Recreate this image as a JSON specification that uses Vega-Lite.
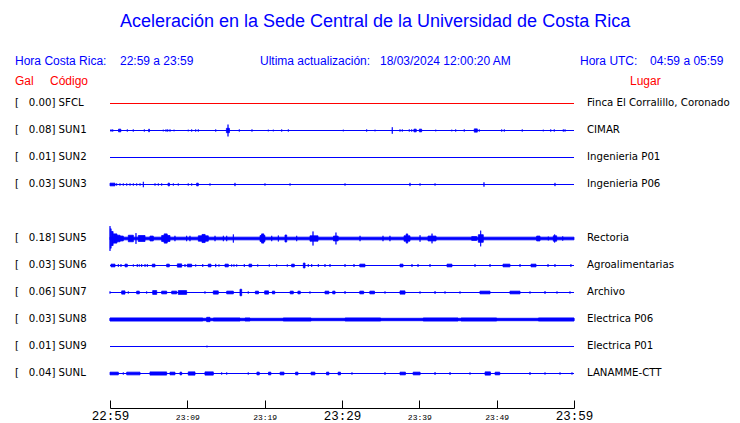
{
  "$schema": "https://vega.github.io/schema/vega-lite/v6.json",
  "width": 464,
  "height": 408,
  "autosize": "none",
  "padding": {"left": 110, "top": 0, "right": 166, "bottom": 15},
  "background": "white",
  "config": {"view": {"stroke": null}, "font": "DejaVu Sans"},
  "datasets": {
    "stations": [
      {"code": "SFCL", "gal": 0.00, "place": "Finca El Corralillo, Coronado", "row": 0},
      {"code": "SUN1", "gal": 0.08, "place": "CIMAR", "row": 1},
      {"code": "SUN2", "gal": 0.01, "place": "Ingenieria P01", "row": 2},
      {"code": "SUN3", "gal": 0.03, "place": "Ingenieria P06", "row": 3},
      {"code": "SUN5", "gal": 0.18, "place": "Rectoria", "row": 5},
      {"code": "SUN6", "gal": 0.03, "place": "Agroalimentarias", "row": 6},
      {"code": "SUN7", "gal": 0.06, "place": "Archivo", "row": 7},
      {"code": "SUN8", "gal": 0.03, "place": "Electrica P06", "row": 8},
      {"code": "SUN9", "gal": 0.01, "place": "Electrica P01", "row": 9},
      {"code": "SUNL", "gal": 0.04, "place": "LANAMME-CTT", "row": 10}
    ],
    "spikes": [
      {"code":"SUN1","t0":0.13,"t1":0.13,"amp":0.04},{"code":"SUN1","t0":0.35,"t1":0.35,"amp":0.04},{"code":"SUN1","t0":1.1,"t1":1.4,"amp":0.05},{"code":"SUN1","t0":2.24,"t1":2.24,"amp":0.04},{"code":"SUN1","t0":3.01,"t1":3.01,"amp":0.04},{"code":"SUN1","t0":4.44,"t1":4.44,"amp":0.04},{"code":"SUN1","t0":5.0,"t1":5.1,"amp":0.05},{"code":"SUN1","t0":6.89,"t1":6.89,"amp":0.03},{"code":"SUN1","t0":7.24,"t1":7.24,"amp":0.04},{"code":"SUN1","t0":7.46,"t1":7.46,"amp":0.04},{"code":"SUN1","t0":7.76,"t1":7.76,"amp":0.04},{"code":"SUN1","t0":8.28,"t1":8.28,"amp":0.03},{"code":"SUN1","t0":10.12,"t1":10.12,"amp":0.03},{"code":"SUN1","t0":10.56,"t1":10.56,"amp":0.04},{"code":"SUN1","t0":11.08,"t1":11.08,"amp":0.04},{"code":"SUN1","t0":11.42,"t1":11.42,"amp":0.04},{"code":"SUN1","t0":13.67,"t1":13.67,"amp":0.04},{"code":"SUN1","t0":15.05,"t1":15.45,"amp":0.08},{"code":"SUN1","t0":15.26,"t1":15.26,"amp":0.22},{"code":"SUN1","t0":16.72,"t1":16.72,"amp":0.04},{"code":"SUN1","t0":18.36,"t1":18.36,"amp":0.04},{"code":"SUN1","t0":20.47,"t1":20.47,"amp":0.03},{"code":"SUN1","t0":21.12,"t1":21.12,"amp":0.03},{"code":"SUN1","t0":22.2,"t1":22.2,"amp":0.04},{"code":"SUN1","t0":23.06,"t1":23.06,"amp":0.04},{"code":"SUN1","t0":30.17,"t1":30.17,"amp":0.03},{"code":"SUN1","t0":33.19,"t1":33.19,"amp":0.04},{"code":"SUN1","t0":34.27,"t1":34.27,"amp":0.03},{"code":"SUN1","t0":36.5,"t1":36.5,"amp":0.12},{"code":"SUN1","t0":37.5,"t1":37.5,"amp":0.04},{"code":"SUN1","t0":37.8,"t1":37.8,"amp":0.04},{"code":"SUN1","t0":38.7,"t1":38.7,"amp":0.04},{"code":"SUN1","t0":39.01,"t1":39.01,"amp":0.04},{"code":"SUN1","t0":39.3,"t1":39.6,"amp":0.05},{"code":"SUN1","t0":40.0,"t1":40.3,"amp":0.05},{"code":"SUN1","t0":42.12,"t1":42.12,"amp":0.03},{"code":"SUN1","t0":44.19,"t1":44.19,"amp":0.03},{"code":"SUN1","t0":44.7,"t1":44.7,"amp":0.04},{"code":"SUN1","t0":45.81,"t1":45.81,"amp":0.04},{"code":"SUN1","t0":47.1,"t1":47.5,"amp":0.06},{"code":"SUN1","t0":47.75,"t1":47.75,"amp":0.04},{"code":"SUN1","t0":50.65,"t1":50.65,"amp":0.04},{"code":"SUN1","t0":50.99,"t1":50.99,"amp":0.04},{"code":"SUN1","t0":53.31,"t1":53.31,"amp":0.04},{"code":"SUN1","t0":56.03,"t1":56.03,"amp":0.03},{"code":"SUN1","t0":56.99,"t1":56.99,"amp":0.04},{"code":"SUN1","t0":57.45,"t1":57.45,"amp":0.04},{"code":"SUN1","t0":58.62,"t1":58.62,"amp":0.04},{"code":"SUN1","t0":58.84,"t1":58.84,"amp":0.04},

      {"code":"SUN3","t0":0,"t1":0.65,"amp":0.05},{"code":"SUN3","t0":0.86,"t1":0.86,"amp":0.04},{"code":"SUN3","t0":1.29,"t1":1.29,"amp":0.04},{"code":"SUN3","t0":1.72,"t1":1.72,"amp":0.04},{"code":"SUN3","t0":2.16,"t1":2.16,"amp":0.04},{"code":"SUN3","t0":2.59,"t1":2.59,"amp":0.04},{"code":"SUN3","t0":3.02,"t1":3.02,"amp":0.04},{"code":"SUN3","t0":3.45,"t1":3.45,"amp":0.04},{"code":"SUN3","t0":3.88,"t1":3.88,"amp":0.04},{"code":"SUN3","t0":4.31,"t1":4.31,"amp":0.1},{"code":"SUN3","t0":5.82,"t1":5.82,"amp":0.04},{"code":"SUN3","t0":6.25,"t1":6.25,"amp":0.04},{"code":"SUN3","t0":6.68,"t1":6.68,"amp":0.04},{"code":"SUN3","t0":7.5,"t1":7.7,"amp":0.05},{"code":"SUN3","t0":8.19,"t1":8.19,"amp":0.04},{"code":"SUN3","t0":8.83,"t1":8.83,"amp":0.04},{"code":"SUN3","t0":10.12,"t1":10.12,"amp":0.04},{"code":"SUN3","t0":10.56,"t1":10.56,"amp":0.04},{"code":"SUN3","t0":11.2,"t1":11.42,"amp":0.05},{"code":"SUN3","t0":12.93,"t1":12.93,"amp":0.04},{"code":"SUN3","t0":16.16,"t1":16.16,"amp":0.06},{"code":"SUN3","t0":20.04,"t1":20.04,"amp":0.04},{"code":"SUN3","t0":23.28,"t1":23.28,"amp":0.04},{"code":"SUN3","t0":30.39,"t1":30.39,"amp":0.04},{"code":"SUN3","t0":38.79,"t1":38.79,"amp":0.06},{"code":"SUN3","t0":40.09,"t1":40.09,"amp":0.04},{"code":"SUN3","t0":42.03,"t1":42.03,"amp":0.04},{"code":"SUN3","t0":48.36,"t1":48.36,"amp":0.08},{"code":"SUN3","t0":57.54,"t1":57.54,"amp":0.06},

      {"code":"SUN5","t0":0,"t1":60,"amp":0.05},{"code":"SUN5","t0":0,"t1":0,"amp":0.46},{"code":"SUN5","t0":0.05,"t1":0.15,"amp":0.36},{"code":"SUN5","t0":0.15,"t1":0.4,"amp":0.26},{"code":"SUN5","t0":0.4,"t1":0.9,"amp":0.17},{"code":"SUN5","t0":0.9,"t1":1.3,"amp":0.12},{"code":"SUN5","t0":1.3,"t1":1.72,"amp":0.09},{"code":"SUN5","t0":2.37,"t1":3.02,"amp":0.12},{"code":"SUN5","t0":3.36,"t1":3.36,"amp":0.2},{"code":"SUN5","t0":3.66,"t1":4.53,"amp":0.11},{"code":"SUN5","t0":5.17,"t1":5.6,"amp":0.09},{"code":"SUN5","t0":6.68,"t1":7.76,"amp":0.11},{"code":"SUN5","t0":7.0,"t1":7.4,"amp":0.17},{"code":"SUN5","t0":8.4,"t1":8.4,"amp":0.1},{"code":"SUN5","t0":9.91,"t1":9.91,"amp":0.1},{"code":"SUN5","t0":10.34,"t1":10.34,"amp":0.1},{"code":"SUN5","t0":11.42,"t1":12.71,"amp":0.1},{"code":"SUN5","t0":11.9,"t1":12.3,"amp":0.15},{"code":"SUN5","t0":13.58,"t1":13.58,"amp":0.1},{"code":"SUN5","t0":14.66,"t1":14.66,"amp":0.1},{"code":"SUN5","t0":15.09,"t1":15.09,"amp":0.1},{"code":"SUN5","t0":15.95,"t1":15.95,"amp":0.15},{"code":"SUN5","t0":19.4,"t1":20.04,"amp":0.11},{"code":"SUN5","t0":19.6,"t1":19.9,"amp":0.17},{"code":"SUN5","t0":20.91,"t1":20.91,"amp":0.1},{"code":"SUN5","t0":21.77,"t1":21.77,"amp":0.11},{"code":"SUN5","t0":22.63,"t1":22.85,"amp":0.13},{"code":"SUN5","t0":24.14,"t1":24.14,"amp":0.1},{"code":"SUN5","t0":25.86,"t1":26.9,"amp":0.1},{"code":"SUN5","t0":26.25,"t1":26.25,"amp":0.26},{"code":"SUN5","t0":28.9,"t1":29.5,"amp":0.09},{"code":"SUN5","t0":29.22,"t1":29.22,"amp":0.22},{"code":"SUN5","t0":32.33,"t1":32.33,"amp":0.1},{"code":"SUN5","t0":35.3,"t1":35.3,"amp":0.1},{"code":"SUN5","t0":36.2,"t1":36.2,"amp":0.1},{"code":"SUN5","t0":38.02,"t1":38.79,"amp":0.1},{"code":"SUN5","t0":38.3,"t1":38.5,"amp":0.17},{"code":"SUN5","t0":40.09,"t1":40.09,"amp":0.12},{"code":"SUN5","t0":41.12,"t1":42.16,"amp":0.09},{"code":"SUN5","t0":41.64,"t1":41.64,"amp":0.18},{"code":"SUN5","t0":46.77,"t1":47.42,"amp":0.07},{"code":"SUN5","t0":47.63,"t1":48.27,"amp":0.14},{"code":"SUN5","t0":47.93,"t1":47.93,"amp":0.29},{"code":"SUN5","t0":55.17,"t1":55.6,"amp":0.09},{"code":"SUN5","t0":56.68,"t1":56.68,"amp":0.07},{"code":"SUN5","t0":57.32,"t1":57.76,"amp":0.1},{"code":"SUN5","t0":57.5,"t1":57.5,"amp":0.15},{"code":"SUN5","t0":58.54,"t1":58.54,"amp":0.08},

      {"code":"SUN6","t0":0.13,"t1":0.65,"amp":0.05},{"code":"SUN6","t0":1.08,"t1":1.08,"amp":0.05},{"code":"SUN6","t0":1.42,"t1":1.42,"amp":0.05},{"code":"SUN6","t0":1.94,"t1":2.24,"amp":0.05},{"code":"SUN6","t0":3.02,"t1":3.02,"amp":0.04},{"code":"SUN6","t0":3.53,"t1":3.53,"amp":0.05},{"code":"SUN6","t0":3.79,"t1":3.79,"amp":0.04},{"code":"SUN6","t0":4.09,"t1":4.09,"amp":0.05},{"code":"SUN6","t0":4.53,"t1":4.53,"amp":0.05},{"code":"SUN6","t0":4.83,"t1":4.83,"amp":0.05},{"code":"SUN6","t0":5.47,"t1":5.82,"amp":0.05},{"code":"SUN6","t0":7.33,"t1":7.67,"amp":0.05},{"code":"SUN6","t0":8.71,"t1":9.27,"amp":0.06},{"code":"SUN6","t0":9.7,"t1":9.7,"amp":0.05},{"code":"SUN6","t0":10.0,"t1":10.56,"amp":0.05},{"code":"SUN6","t0":11.08,"t1":11.08,"amp":0.04},{"code":"SUN6","t0":11.99,"t1":11.99,"amp":0.05},{"code":"SUN6","t0":12.71,"t1":13.06,"amp":0.05},{"code":"SUN6","t0":13.67,"t1":13.67,"amp":0.06},{"code":"SUN6","t0":14.09,"t1":14.09,"amp":0.04},{"code":"SUN6","t0":14.87,"t1":15.3,"amp":0.05},{"code":"SUN6","t0":15.73,"t1":15.73,"amp":0.04},{"code":"SUN6","t0":16.03,"t1":16.03,"amp":0.04},{"code":"SUN6","t0":16.38,"t1":16.38,"amp":0.04},{"code":"SUN6","t0":17.37,"t1":17.37,"amp":0.05},{"code":"SUN6","t0":17.97,"t1":18.32,"amp":0.05},{"code":"SUN6","t0":19.1,"t1":19.1,"amp":0.04},{"code":"SUN6","t0":20.6,"t1":20.6,"amp":0.04},{"code":"SUN6","t0":21.55,"t1":21.55,"amp":0.04},{"code":"SUN6","t0":22.93,"t1":22.93,"amp":0.04},{"code":"SUN6","t0":23.49,"t1":23.83,"amp":0.05},{"code":"SUN6","t0":25.0,"t1":25.22,"amp":0.09},{"code":"SUN6","t0":25.64,"t1":25.64,"amp":0.05},{"code":"SUN6","t0":26.08,"t1":26.08,"amp":0.05},{"code":"SUN6","t0":26.94,"t1":26.94,"amp":0.05},{"code":"SUN6","t0":27.8,"t1":27.8,"amp":0.05},{"code":"SUN6","t0":28.45,"t1":28.45,"amp":0.05},{"code":"SUN6","t0":30.39,"t1":30.39,"amp":0.05},{"code":"SUN6","t0":31.55,"t1":31.55,"amp":0.05},{"code":"SUN6","t0":32.3,"t1":32.97,"amp":0.05},{"code":"SUN6","t0":37.5,"t1":37.89,"amp":0.05},{"code":"SUN6","t0":39.05,"t1":39.05,"amp":0.05},{"code":"SUN6","t0":39.83,"t1":39.83,"amp":0.05},{"code":"SUN6","t0":41.38,"t1":41.38,"amp":0.05},{"code":"SUN6","t0":43.58,"t1":44.22,"amp":0.05},{"code":"SUN6","t0":47.2,"t1":47.2,"amp":0.05},{"code":"SUN6","t0":49.14,"t1":49.14,"amp":0.05},{"code":"SUN6","t0":50.82,"t1":51.72,"amp":0.05},{"code":"SUN6","t0":53.02,"t1":53.02,"amp":0.05},{"code":"SUN6","t0":54.44,"t1":55.09,"amp":0.05},{"code":"SUN6","t0":56.64,"t1":56.64,"amp":0.05},{"code":"SUN6","t0":57.54,"t1":57.54,"amp":0.05},{"code":"SUN6","t0":59.6,"t1":59.6,"amp":0.05},

      {"code":"SUN7","t0":0,"t1":0,"amp":0.04},{"code":"SUN7","t0":1.51,"t1":1.94,"amp":0.06},{"code":"SUN7","t0":2.37,"t1":2.37,"amp":0.04},{"code":"SUN7","t0":3.45,"t1":3.79,"amp":0.05},{"code":"SUN7","t0":4.74,"t1":4.74,"amp":0.04},{"code":"SUN7","t0":5.52,"t1":6.04,"amp":0.07},{"code":"SUN7","t0":6.68,"t1":7.33,"amp":0.05},{"code":"SUN7","t0":7.98,"t1":8.62,"amp":0.05},{"code":"SUN7","t0":8.83,"t1":9.91,"amp":0.07},{"code":"SUN7","t0":12.28,"t1":12.28,"amp":0.04},{"code":"SUN7","t0":13.36,"t1":14.0,"amp":0.06},{"code":"SUN7","t0":15.09,"t1":15.95,"amp":0.05},{"code":"SUN7","t0":16.81,"t1":17.03,"amp":0.12},{"code":"SUN7","t0":17.88,"t1":17.88,"amp":0.04},{"code":"SUN7","t0":18.8,"t1":19.2,"amp":0.05},{"code":"SUN7","t0":20.0,"t1":20.5,"amp":0.06},{"code":"SUN7","t0":21.0,"t1":21.3,"amp":0.05},{"code":"SUN7","t0":23.3,"t1":23.7,"amp":0.05},{"code":"SUN7","t0":24.3,"t1":24.6,"amp":0.05},{"code":"SUN7","t0":25.86,"t1":25.86,"amp":0.04},{"code":"SUN7","t0":27.8,"t1":28.3,"amp":0.05},{"code":"SUN7","t0":28.8,"t1":29.1,"amp":0.05},{"code":"SUN7","t0":30.39,"t1":30.39,"amp":0.05},{"code":"SUN7","t0":32.3,"t1":32.8,"amp":0.05},{"code":"SUN7","t0":33.6,"t1":34.2,"amp":0.05},{"code":"SUN7","t0":35.56,"t1":35.56,"amp":0.04},{"code":"SUN7","t0":37.5,"t1":38.15,"amp":0.06},{"code":"SUN7","t0":40.09,"t1":40.09,"amp":0.04},{"code":"SUN7","t0":42.03,"t1":42.03,"amp":0.05},{"code":"SUN7","t0":43.32,"t1":43.32,"amp":0.04},{"code":"SUN7","t0":45.26,"t1":45.26,"amp":0.04},{"code":"SUN7","t0":47.84,"t1":49.14,"amp":0.05},{"code":"SUN7","t0":51.72,"t1":53.02,"amp":0.05},{"code":"SUN7","t0":54.31,"t1":54.31,"amp":0.04},{"code":"SUN7","t0":56.25,"t1":56.25,"amp":0.05},{"code":"SUN7","t0":57.8,"t1":57.8,"amp":0.04},{"code":"SUN7","t0":59.48,"t1":59.48,"amp":0.04},

      {"code":"SUN8","t0":0,"t1":60,"amp":0.045},{"code":"SUN8","t0":0,"t1":12.0,"amp":0.055},{"code":"SUN8","t0":12.5,"t1":12.93,"amp":0.08},{"code":"SUN8","t0":13.36,"t1":16.81,"amp":0.055},{"code":"SUN8","t0":17.46,"t1":18.1,"amp":0.055},{"code":"SUN8","t0":22.4,"t1":26,"amp":0.055},{"code":"SUN8","t0":30.4,"t1":35,"amp":0.055},{"code":"SUN8","t0":40.5,"t1":45,"amp":0.055},{"code":"SUN8","t0":45.4,"t1":50,"amp":0.055},{"code":"SUN8","t0":55.4,"t1":60,"amp":0.055},

      {"code":"SUN9","t0":12.54,"t1":12.54,"amp":0.03},

      {"code":"SUNL","t0":0,"t1":1.08,"amp":0.05},{"code":"SUNL","t0":1.72,"t1":1.72,"amp":0.04},{"code":"SUNL","t0":2.16,"t1":3.88,"amp":0.05},{"code":"SUNL","t0":5.17,"t1":7.33,"amp":0.06},{"code":"SUNL","t0":7.76,"t1":8.4,"amp":0.05},{"code":"SUNL","t0":9.05,"t1":9.27,"amp":0.05},{"code":"SUNL","t0":10.12,"t1":10.99,"amp":0.06},{"code":"SUNL","t0":12.28,"t1":13.36,"amp":0.06},{"code":"SUNL","t0":14.44,"t1":14.44,"amp":0.04},{"code":"SUNL","t0":15.09,"t1":15.09,"amp":0.04},{"code":"SUNL","t0":17.88,"t1":17.88,"amp":0.04},{"code":"SUNL","t0":19.0,"t1":19.3,"amp":0.05},{"code":"SUNL","t0":20.5,"t1":20.8,"amp":0.05},{"code":"SUNL","t0":22.0,"t1":22.5,"amp":0.05},{"code":"SUNL","t0":24.0,"t1":24.3,"amp":0.05},{"code":"SUNL","t0":26.0,"t1":26.5,"amp":0.05},{"code":"SUNL","t0":28.0,"t1":28.3,"amp":0.05},{"code":"SUNL","t0":29.5,"t1":29.8,"amp":0.05},{"code":"SUNL","t0":31.29,"t1":31.29,"amp":0.04},{"code":"SUNL","t0":35.56,"t1":35.56,"amp":0.05},{"code":"SUNL","t0":37.5,"t1":38.2,"amp":0.05},{"code":"SUNL","t0":39.2,"t1":40.1,"amp":0.05},{"code":"SUNL","t0":42.03,"t1":42.03,"amp":0.05},{"code":"SUNL","t0":43.97,"t1":43.97,"amp":0.05},{"code":"SUNL","t0":46.55,"t1":46.55,"amp":0.04},{"code":"SUNL","t0":48.5,"t1":49.2,"amp":0.06},{"code":"SUNL","t0":49.8,"t1":50.4,"amp":0.05},{"code":"SUNL","t0":54.31,"t1":54.31,"amp":0.05},{"code":"SUNL","t0":56.25,"t1":56.25,"amp":0.04},{"code":"SUNL","t0":58.19,"t1":58.19,"amp":0.04},{"code":"SUNL","t0":59.74,"t1":59.74,"amp":0.04}
    ]
  },
  "layer": [
    {
      "data": {"name": "stations"},
      "mark": {"type": "rule", "strokeWidth": 1.2},
      "encoding": {
        "x": {"datum": 0, "type": "quantitative", "scale": {"domain": [0, 60], "nice": false, "zero": false},
          "axis": {
            "values": [0, 5, 10, 15, 20, 25, 30, 35, 40, 45, 50, 55, 60],
            "title": null, "grid": false,
            "domainColor": "#000000",
            "tickColor": "#000000", "tickSize": -8,
            "labelFont": "Liberation Mono", "labelColor": "#000000",
            "labelFontSize": {"condition": {"test": "datum.value % 30 == 0", "value": 12.5}, "value": 8},
            "labelExpr": "datum.value % 10 != 0 ? '' : (datum.value == 0 ? '22:59' : '23:' + format(datum.value - 1, '02d'))",
            "labelBaseline": "alphabetic", "labelPadding": 19,
            "labelFlush": false, "labelOverlap": false, "labelBound": false
          }},
        "x2": {"datum": 60},
        "y": {"field": "row", "type": "quantitative", "scale": {"domain": [-3.8333, 11.2778], "reverse": true, "nice": false, "zero": false}, "axis": null},
        "color": {"condition": {"test": "datum.code == 'SFCL'", "value": "#ff0000"}, "value": "#0000ff"}
      }
    },
    {
      "data": {"name": "spikes"},
      "transform": [
        {"lookup": "code", "from": {"data": {"name": "stations"}, "key": "code", "fields": ["row"]}},
        {"calculate": "datum.row - datum.amp", "as": "lo"},
        {"calculate": "datum.row + datum.amp", "as": "hi"}
      ],
      "mark": {"type": "rect", "color": "#0000ff", "stroke": "#0000ff", "strokeWidth": 0.8},
      "encoding": {
        "x": {"field": "t0", "type": "quantitative", "scale": {"domain": [0, 60], "nice": false, "zero": false}},
        "x2": {"field": "t1"},
        "y": {"field": "lo", "type": "quantitative", "scale": {"domain": [-3.8333, 11.2778], "reverse": true, "nice": false, "zero": false}, "axis": null},
        "y2": {"field": "hi"}
      }
    },
    {
      "data": {"name": "stations"},
      "transform": [{"calculate": "'[\u00a0\u00a0\u00a0' + format(datum.gal, '.2f') + '] ' + datum.code", "as": "label"}],
      "mark": {"type": "text", "align": "left", "baseline": "middle", "font": "DejaVu Sans", "fontSize": 10.2, "color": "#000000"},
      "encoding": {
        "x": {"datum": -12.28, "type": "quantitative", "scale": {"domain": [0, 60], "nice": false, "zero": false}},
        "y": {"field": "row", "type": "quantitative", "scale": {"domain": [-3.8333, 11.2778], "reverse": true, "nice": false, "zero": false}, "axis": null},
        "text": {"field": "label"}
      }
    },
    {
      "data": {"name": "stations"},
      "mark": {"type": "text", "align": "left", "baseline": "middle", "font": "DejaVu Sans", "fontSize": 10.2, "color": "#000000"},
      "encoding": {
        "x": {"datum": 61.68, "type": "quantitative", "scale": {"domain": [0, 60], "nice": false, "zero": false}},
        "y": {"field": "row", "type": "quantitative", "scale": {"domain": [-3.8333, 11.2778], "reverse": true, "nice": false, "zero": false}, "axis": null},
        "text": {"field": "place"}
      }
    },
    {
      "data": {"values": [{}]},
      "mark": {"type": "text", "text": "Aceleración en la Sede Central de la Universidad de Costa Rica", "align": "center", "baseline": "middle", "font": "Liberation Sans", "fontSize": 18, "color": "#0000ff"},
      "encoding": {
        "x": {"datum": 34.27, "type": "quantitative", "scale": {"domain": [0, 60], "nice": false, "zero": false}},
        "y": {"datum": -3.0185, "type": "quantitative", "scale": {"domain": [-3.8333, 11.2778], "reverse": true, "nice": false, "zero": false}, "axis": null}
      }
    },
    {
      "data": {"values": [
        {"text": "Hora Costa Rica:", "t": -12.28},
        {"text": "22:59 a 23:59", "t": 1.29},
        {"text": "Ultima actualización:", "t": 19.4},
        {"text": "18/03/2024 12:00:20 AM", "t": 34.91},
        {"text": "Hora UTC:", "t": 60.78},
        {"text": "04:59 a 05:59", "t": 69.83}
      ]},
      "mark": {"type": "text", "align": "left", "baseline": "middle", "font": "Liberation Sans", "fontSize": 12, "color": "#0000ff"},
      "encoding": {
        "x": {"field": "t", "type": "quantitative", "scale": {"domain": [0, 60], "nice": false, "zero": false}},
        "y": {"datum": -1.574, "type": "quantitative", "scale": {"domain": [-3.8333, 11.2778], "reverse": true, "nice": false, "zero": false}, "axis": null},
        "text": {"field": "text"}
      }
    },
    {
      "data": {"values": [
        {"text": "Gal", "t": -12.28},
        {"text": "Código", "t": -7.76},
        {"text": "Lugar", "t": 67.24}
      ]},
      "mark": {"type": "text", "align": "left", "baseline": "middle", "font": "Liberation Sans", "fontSize": 12, "color": "#ff0000"},
      "encoding": {
        "x": {"field": "t", "type": "quantitative", "scale": {"domain": [0, 60], "nice": false, "zero": false}},
        "y": {"datum": -0.833, "type": "quantitative", "scale": {"domain": [-3.8333, 11.2778], "reverse": true, "nice": false, "zero": false}, "axis": null},
        "text": {"field": "text"}
      }
    }
  ]
}
